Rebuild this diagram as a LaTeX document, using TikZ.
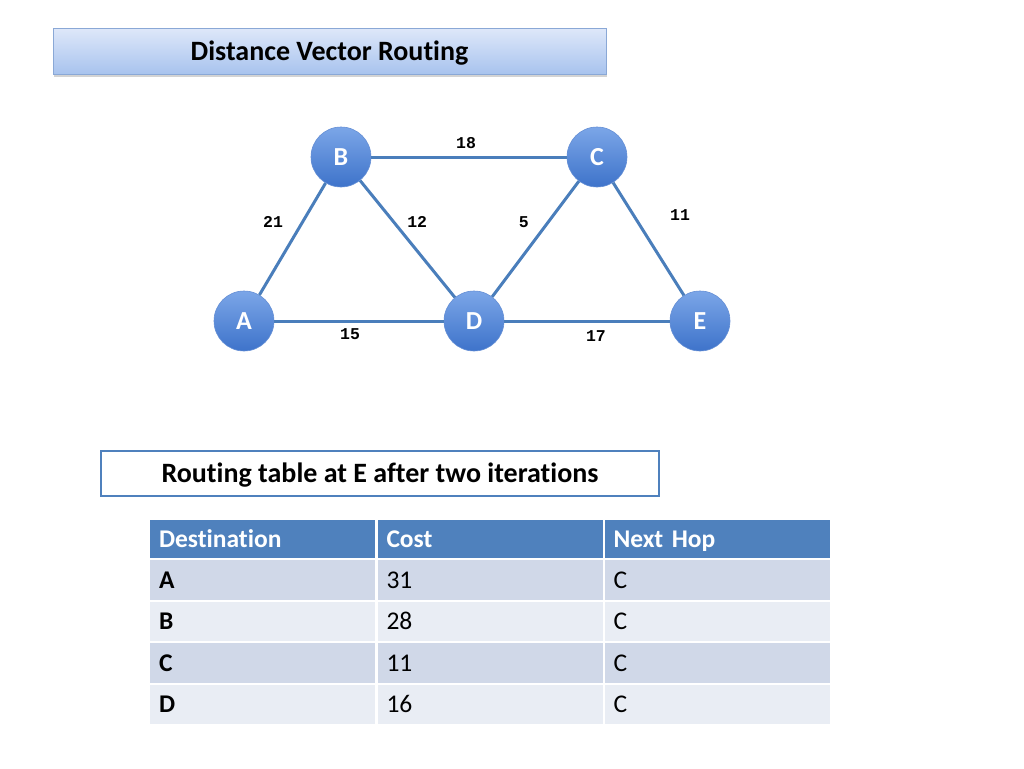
\documentclass[tikz,border=0pt]{standalone}
\usepackage{fontspec}
\setmainfont{Carlito}[Ligatures=NoCommon]
\newfontfamily\costfont{Liberation Mono}
\usetikzlibrary{shadows}
\definecolor{linkblue}{HTML}{4A7EBB}
\definecolor{nodetop}{HTML}{7BA6E8}
\definecolor{nodebot}{HTML}{3E73CA}
\definecolor{titletop}{HTML}{DDE7F9}
\definecolor{titlebot}{HTML}{A8C3EE}
\definecolor{titleline}{HTML}{8AA8D6}
\definecolor{hdrblue}{HTML}{4F81BD}
\definecolor{rowdark}{HTML}{D0D8E8}
\definecolor{rowlight}{HTML}{E9EDF4}

\begin{document}
\begin{tikzpicture}[x=1pt,y=-1pt,
  router/.style={circle, minimum size=60pt, inner sep=0pt, top color=nodetop,
    bottom color=nodebot, draw=nodebot!80!white, line width=0.6pt, text=white,
    font=\fontsize{26}{26}\selectfont\bfseries},
  link/.style={draw=linkblue, line width=3pt},
  cost/.style={font=\costfont\fontsize{16.5}{16.5}\selectfont\bfseries, inner sep=1pt},
  banner/.style={minimum height=45pt, inner sep=0pt, text height=20pt, text depth=3pt,
    font=\fontsize{28}{28}\selectfont\bfseries},
  cell/.style={anchor=north west, draw=white, line width=2pt, minimum height=41.5pt,
    text width=207pt, inner xsep=10pt, align=left, text height=20pt, text depth=3pt,
    font=\fontsize{25.5}{25.5}\selectfont}]
\useasboundingbox (0,0) rectangle (1024,768);

\node[banner, minimum width=553pt, top color=titletop, bottom color=titlebot,
  draw=titleline, line width=1pt,
  drop shadow={opacity=.35, shadow xshift=1pt, shadow yshift=-3pt}]
  (title) at (329.5,51.5) {Distance Vector Routing};

\node[router] (A) at (244,321) {A};
\node[router] (B) at (341,157) {B};
\node[router] (C) at (597,157) {C};
\node[router] (D) at (474,321) {D};
\node[router] (E) at (700,321) {E};

\path[link] (A) edge node[cost, pos=.65, left=17pt] {21} (B);
\path[link] (B) edge node[cost, pos=.485, above=6pt] {18} (C);
\path[link] (B) edge node[cost, pos=.355, right=11pt] {12} (D);
\path[link] (D) edge node[cost, pos=.647, left=17pt] {5} (C);
\path[link] (C) edge node[cost, pos=.29, right=34pt] {11} (E);
\path[link] (A) edge node[cost, pos=.447, below=5pt] {15} (D);
\path[link] (D) edge node[cost, pos=.554, below=7pt] {17} (E);

\node[banner, minimum width=558pt, fill=white, draw=hdrblue, line width=2pt]
  (caption) at (380,473.5) {Routing table at E after two iterations};

% routing table
\node[cell, fill=hdrblue, text=white, minimum height=40pt, font=\fontsize{25.5}{25.5}\selectfont\bfseries]
  (hdr-dest) at (148,518) {Destination};
\node[cell, fill=hdrblue, text=white, minimum height=40pt, font=\fontsize{25.5}{25.5}\selectfont\bfseries]
  (hdr-cost) at (375.5,518) {Cost};
\node[cell, fill=hdrblue, text=white, minimum height=40pt, font=\fontsize{25.5}{25.5}\selectfont\bfseries]
  (hdr-hop) at (602.5,518) {Next Hop};
\foreach \dest/\cost [count=\r] in {A/31,B/28,C/11,D/16} {
  \ifodd\r \def\rowcol{rowdark}\else\def\rowcol{rowlight}\fi
  \node[cell, fill=\rowcol, font=\fontsize{25.5}{25.5}\selectfont\bfseries]
    (row-\dest-dest) at (148,{558+(\r-1)*41.5}) {\dest};
  \node[cell, fill=\rowcol] (row-\dest-cost) at (375.5,{558+(\r-1)*41.5}) {\cost};
  \node[cell, fill=\rowcol] (row-\dest-hop) at (602.5,{558+(\r-1)*41.5}) {C};
}
\end{tikzpicture}
\end{document}
